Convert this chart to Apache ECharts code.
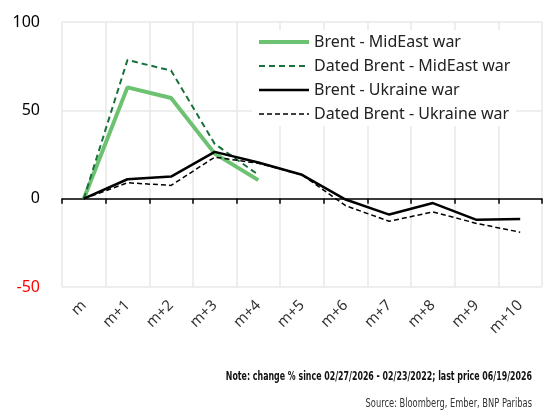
<!DOCTYPE html>
<html>
<head>
<meta charset="utf-8">
<script src="https://cdn.jsdelivr.net/npm/echarts@6/dist/echarts.min.js"></script>
<style>
  html, body { margin: 0; padding: 0; background: #fff; }
  #chart { width: 545px; height: 414px; }
</style>
</head>
<body>
<div id="chart"></div>
<script>
// months after the start of each war
var months = ['m', 'm+1', 'm+2', 'm+3', 'm+4', 'm+5', 'm+6', 'm+7', 'm+8', 'm+9', 'm+10'];

// % change since start
var brentMidEast = [0, 63, 57, 25.5, 10.5, null, null, null, null, null, null];
var datedMidEast = [0, 78.5, 72.5, 31, 13.5, null, null, null, null, null, null];
var brentUkraine = [0, 11, 12.5, 26.5, 20.5, 13.5, -0.5, -9, -2.5, -12, -11.5];
var datedUkraine = [0, 9, 7.5, 23.5, 20, 13.5, -4, -12.8, -7.5, -14, -19];

var yTicks = { min: -50, max: 100, step: 50 };

var font = 'Noto Sans';
var narrow = '"Liberation Sans Narrow", "DejaVu Sans Condensed", sans-serif';
var myChart = echarts.init(document.getElementById('chart'));

var option = {
    animation: false,
    grid: { left: 62, right: 3, top: 22, bottom: 127 },
    legend: {
        orient: 'vertical',
        left: 252,
        top: 30,
        itemWidth: 50,
        itemHeight: 14,
        itemGap: 8,
        backgroundColor: '#fff',
        padding: [4, 6, 4, 5],
        itemStyle: { opacity: 0 },
        textStyle: { fontFamily: font, fontSize: 16, color: '#222' },
        data: [
            { name: 'Brent - MidEast war', lineStyle: { width: 4 } },
            { name: 'Dated Brent - MidEast war', lineStyle: { width: 2 } },
            { name: 'Brent - Ukraine war', lineStyle: { width: 2.5 } },
            { name: 'Dated Brent - Ukraine war', lineStyle: { width: 1.5 } }
        ]
    },
    xAxis: [{
        // the zero line with its ticks
        type: 'category',
        data: months,
        position: 'bottom',
        axisLine: { onZero: true, lineStyle: { color: '#000', width: 1.5 } },
        axisTick: { show: true, length: 5, lineStyle: { color: '#000', width: 1.5 } },
        axisLabel: { show: false },
        splitLine: { show: false }
    }, {
        // labels at the bottom and the vertical grid
        type: 'category',
        data: months,
        position: 'bottom',
        axisLine: { show: false, onZero: false },
        axisTick: { show: false },
        axisLabel: {
            rotate: 45, margin: 16,
            fontFamily: font, fontSize: 15, color: '#333'
        },
        splitLine: { show: true, lineStyle: { color: '#e9e9e9', width: 1.5 } }
    }],
    yAxis: {
        type: 'value',
        min: yTicks.min,
        max: yTicks.max,
        interval: yTicks.step,
        axisLine: { show: false },
        axisTick: { show: false },
        axisLabel: {
            margin: 22,
            fontFamily: font,
            fontSize: 16,
            color: '#000',
            formatter: function (v) { return v < 0 ? '{neg|' + v + '}' : String(v); },
            rich: { neg: { color: '#ff0000', fontFamily: font, fontSize: 16 } }
        },
        splitLine: { lineStyle: { color: '#e9e9e9', width: 1.5 } }
    },
    series: [{
        name: 'Brent - MidEast war',
        type: 'line',
        data: brentMidEast,
        symbol: 'none',
        color: '#6cc271',
        lineStyle: { color: '#6cc271', width: 4 }
    }, {
        name: 'Dated Brent - MidEast war',
        type: 'line',
        data: datedMidEast,
        symbol: 'none',
        color: '#17713a',
        lineStyle: { color: '#17713a', width: 2, type: [6, 4] }
    }, {
        name: 'Brent - Ukraine war',
        type: 'line',
        data: brentUkraine,
        symbol: 'none',
        color: '#000',
        lineStyle: { color: '#000', width: 2.5 }
    }, {
        name: 'Dated Brent - Ukraine war',
        type: 'line',
        data: datedUkraine,
        symbol: 'none',
        color: '#000',
        lineStyle: { color: '#000', width: 1.5, type: [5, 3] }
    }],
    graphic: [{
        type: 'text',
        x: 532,
        y: 377,
        scaleX: 0.674,
        style: {
            text: 'Note: change % since 02/27/2026 - 02/23/2022; last price 06/19/2026',
            font: 'bold 13px ' + narrow,
            fill: '#111',
            textAlign: 'right',
            textVerticalAlign: 'middle'
        }
    }, {
        type: 'text',
        x: 532,
        y: 404,
        scaleX: 0.71,
        style: {
            text: 'Source: Bloomberg, Ember, BNP Paribas',
            font: '13px ' + narrow,
            fill: '#333',
            textAlign: 'right',
            textVerticalAlign: 'middle'
        }
    }]
};

myChart.setOption(option);
</script>
</body>
</html>
